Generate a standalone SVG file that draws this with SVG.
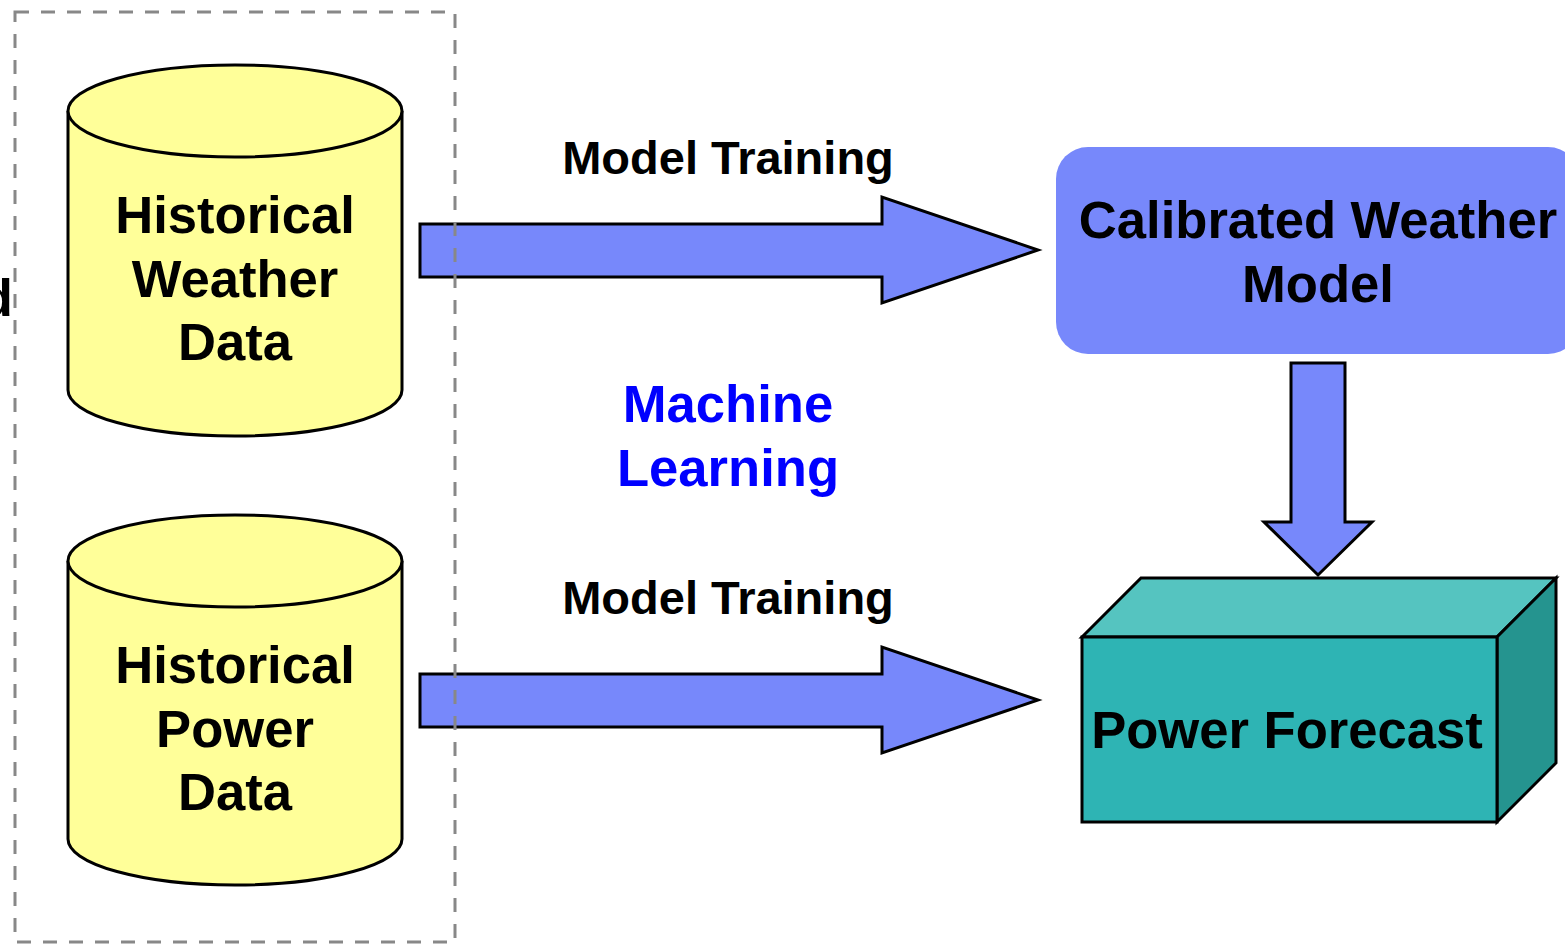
<svg xmlns="http://www.w3.org/2000/svg" width="1565" height="944" viewBox="0 0 1565 944">
  <style>
    .lbl { font-family: "Liberation Sans", Arial, sans-serif; font-weight: bold; text-anchor: middle; fill: #000; }
    .big { font-size: 52.6px; }
    .mid { font-size: 47px; }
    .cyl { fill: #FFFF99; stroke: #000; stroke-width: 3; }
    .arrow { fill: #7788FB; stroke: #000; stroke-width: 3; stroke-linejoin: miter; }
  </style>
  <rect width="1565" height="944" fill="#fff"/>

  <!-- clipped label at far left -->
  <text class="lbl big" x="13" y="316" style="text-anchor:end">d</text>

  <!-- Historical Weather Data cylinder -->
  <g id="weather-data">
    <path class="cyl" d="M68,111 L68,390 A167,46 0 0 0 402,390 L402,111"/>
    <ellipse class="cyl" cx="235" cy="111" rx="167" ry="46"/>
    <text class="lbl big" x="235" y="233">Historical</text>
    <text class="lbl big" x="235" y="297">Weather</text>
    <text class="lbl big" x="235" y="360">Data</text>
  </g>

  <!-- Historical Power Data cylinder -->
  <g id="power-data">
    <path class="cyl" d="M68,561 L68,839 A167,46 0 0 0 402,839 L402,561"/>
    <ellipse class="cyl" cx="235" cy="561" rx="167" ry="46"/>
    <text class="lbl big" x="235" y="683">Historical</text>
    <text class="lbl big" x="235" y="747">Power</text>
    <text class="lbl big" x="235" y="810">Data</text>
  </g>

  <!-- Calibrated Weather Model -->
  <g id="weather-model">
    <rect x="1056" y="147" width="524" height="207" rx="32" ry="32" fill="#7788FB"/>
    <text class="lbl big" x="1318" y="238">Calibrated Weather</text>
    <text class="lbl big" x="1318" y="302">Model</text>
  </g>

  <!-- Power Forecast box -->
  <g id="power-forecast" stroke="#000" stroke-width="3" stroke-linejoin="miter">
    <polygon points="1082,637 1141,578 1556,578 1497,637" fill="#55C4C0"/>
    <polygon points="1497,637 1556,578 1556,763 1497,822" fill="#25948F"/>
    <rect x="1082" y="637" width="415" height="185" fill="#2EB4B4"/>
    <text class="lbl big" x="1287" y="748" stroke="none">Power Forecast</text>
  </g>

  <!-- connectors -->
  <g id="connectors">
    <polygon class="arrow" points="420,224 882,224 882,197 1038,250 882,303 882,277 420,277"/>
    <polygon class="arrow" points="420,674 882,674 882,647 1038,700 882,753 882,727 420,727"/>
    <polygon class="arrow" points="1291,363 1345,363 1345,522 1372,522 1318,575 1264,522 1291,522"/>
  </g>

  <!-- connector labels -->
  <g id="labels">
    <text class="lbl mid" x="728" y="174">Model Training</text>
    <text class="lbl mid" x="728" y="614">Model Training</text>
    <text class="lbl big" x="728" y="422" style="fill:#0000FF">Machine</text>
    <text class="lbl big" x="728" y="486" style="fill:#0000FF">Learning</text>
  </g>

  <!-- dashed grouping frame -->
  <g id="data-frame">
    <rect x="15" y="12" width="440" height="930" fill="none" stroke="#888" stroke-width="3" stroke-dasharray="14 12"/>
  </g>
</svg>
